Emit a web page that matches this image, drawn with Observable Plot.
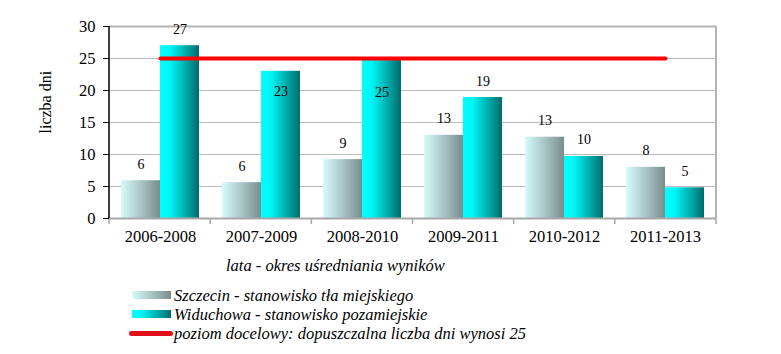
<!DOCTYPE html>
<html><head><meta charset="utf-8">
<script src="https://cdn.jsdelivr.net/npm/d3@7"></script>
<script src="https://cdn.jsdelivr.net/npm/@observablehq/plot@0.6"></script>
<style>
body{margin:0;background:#fff;font-family:'Liberation Serif',serif;color:#000}
#wrap{position:relative;width:781px;height:354px;overflow:hidden}
#chart{position:absolute;left:0;top:0}
.t{position:absolute;font-family:'Liberation Serif',serif;font-style:italic;font-size:16.5px;line-height:19px;white-space:nowrap}
.sw{position:absolute}
</style></head>
<body><div id="wrap"><div id="chart"></div></div>
<script>
const categories = ["2006-2008","2007-2009","2008-2010","2009-2011","2010-2012","2011-2013"];
const szczecin = [5.9, 5.6, 9.2, 13.0, 12.7, 8.0];
const widuchowa = [27.0, 23.0, 24.9, 18.9, 9.7, 4.8];
const target = 25;
const yTicks = [0, 5, 10, 15, 20, 25, 30];
const seriesNames = ["Szczecin - stanowisko tła miejskiego", "Widuchowa - stanowisko pozamiejskie"];
const targetLabel = "poziom docelowy: dopuszczalna liczba dni wynosi 25";
const xTitle = "lata - okres uśredniania wyników";
const yTitle = "liczba dni";

const FONT = "Liberation Serif";
const W = 781, H = 250, ML = 109, MR = 65, MT = 26, MB = 32;
const PI = 0.23, PO = 0.115;
const xb = d3.scaleBand(categories, [ML, W - MR]).paddingInner(PI).paddingOuter(PO);
const bw = xb.bandwidth(), gap = xb.step() - bw;

const rows = categories.map((c, i) => ({cat: c, s: szczecin[i], w: widuchowa[i], i}));
const targetRows = [categories[0], categories[categories.length - 1]].map(c => ({cat: c, v: target}));

function extras() {
  const g = d3.create("svg:g");
  const defs = g.append("defs");
  const gs = defs.append("linearGradient").attr("id", "gS");
  [[0, "#d6fbfb"], [0.5, "#aac6c6"], [1, "#788c8c"]].forEach(([o, c]) => gs.append("stop").attr("offset", o).attr("stop-color", c));
  const gw = defs.append("linearGradient").attr("id", "gW");
  [[0, "#00ffff"], [0.25, "#00f6f6"], [1, "#006c6c"]].forEach(([o, c]) => gw.append("stop").attr("offset", o).attr("stop-color", c));
  return g.node();
}
function frameLines() {
  const g = d3.create("svg:g");
  const bounds = categories.map(c => xb(c) - gap / 2).concat([xb(categories[categories.length - 1]) + bw + gap / 2]);
  g.selectAll("line.b").data(bounds).join("line")
    .attr("x1", d => d).attr("x2", d => d).attr("y1", H - MB).attr("y2", H - MB + 6)
    .attr("stroke", "#a8a8a8").attr("stroke-width", 1.5);
  g.append("line").attr("x1", W - MR).attr("x2", W - MR).attr("y1", MT).attr("y2", H - MB)
    .attr("stroke", "#b4b4b4").attr("stroke-width", 2);
  g.append("line").attr("x1", ML).attr("x2", ML).attr("y1", MT).attr("y2", H - MB)
    .attr("stroke", "#000").attr("stroke-width", 1.5);
  return g.node();
}

const lbl = {fontSize: 14, fontFamily: FONT, fill: "#000"};
const plot = Plot.plot({
  width: W, height: H, marginLeft: ML, marginRight: MR, marginTop: MT, marginBottom: MB,
  style: {fontFamily: FONT, background: "#fff", color: "#000"},
  x: {domain: categories, paddingInner: PI, paddingOuter: PO, axis: null},
  y: {domain: [0, 30], axis: null},
  marks: [
    extras,
    Plot.ruleY(yTicks.filter(t => t > 0 && t < 30), {stroke: "#bcbcbc", strokeWidth: 1}),
    Plot.barY(rows, {x: "cat", y: "s", fill: "url(#gS)", insetRight: bw / 2}),
    Plot.barY(rows, {x: "cat", y: "w", fill: "url(#gW)", insetLeft: bw / 2}),
    Plot.ruleY([30], {stroke: "#b4b4b4", strokeWidth: 2}),
    Plot.ruleY([0], {stroke: "#a8a8a8", strokeWidth: 2}),
    frameLines,
    Plot.lineY(targetRows, {x: "cat", y: "v", stroke: "#ff0000", strokeWidth: 4}),
    Plot.text(rows, {x: "cat", y: "s", text: d => Math.round(d.s), dx: -bw / 4, dy: -16.5, ...lbl}),
    Plot.text(rows.filter(d => d.i !== 1 && d.i !== 2), {x: "cat", y: "w", text: d => Math.round(d.w), dx: bw / 4, dy: -16.5, ...lbl}),
    Plot.text(rows.filter(d => d.i === 1), {x: "cat", y: "w", text: d => Math.round(d.w), dx: bw / 4, dy: 20, ...lbl}),
    Plot.text(rows.filter(d => d.i === 2), {x: "cat", y: "w", text: d => Math.round(d.w), dx: bw / 4, dy: 33, ...lbl}),
    Plot.axisY({ticks: yTicks, tickSize: 6, tickPadding: 8, fontSize: 16.5, fontFamily: FONT, label: null, tickFormat: d => d}),
    Plot.axisX({tickSize: 0, tickPadding: 12, fontSize: 16.5, fontFamily: FONT, label: null}),
    Plot.text([yTitle], {text: d => d, frameAnchor: "left", dx: -64, dy: 11, rotate: -90, fontSize: 16, fontFamily: FONT, fill: "#000"})
  ]
});
document.getElementById("chart").appendChild(plot);

const wrap = document.getElementById("wrap");
function addText(txt, left, cy) {
  const d = document.createElement("div");
  d.className = "t"; d.textContent = txt;
  d.style.left = left + "px"; d.style.top = (cy - 9.5) + "px";
  wrap.appendChild(d);
}
function addSwatch(left, cy, w, h, bg, radius) {
  const d = document.createElement("div");
  d.className = "sw";
  d.style.left = left + "px"; d.style.top = (cy - h / 2) + "px";
  d.style.width = w + "px"; d.style.height = h + "px";
  d.style.background = bg; if (radius) d.style.borderRadius = radius;
  wrap.appendChild(d);
}
addText(xTitle, 226, 265);
addSwatch(132, 295, 39, 8, "linear-gradient(to right,#d6fbfb,#aac6c6,#788c8c)");
addText(seriesNames[0], 174, 295);
addSwatch(132, 314, 39, 8, "linear-gradient(to right,#00ffff,#00f6f6 25%,#006c6c)");
addText(seriesNames[1], 174, 314);
addSwatch(129, 333, 44, 5, "#e0101a", "3px");
addText(targetLabel, 174, 333);
</script>
</body></html>
